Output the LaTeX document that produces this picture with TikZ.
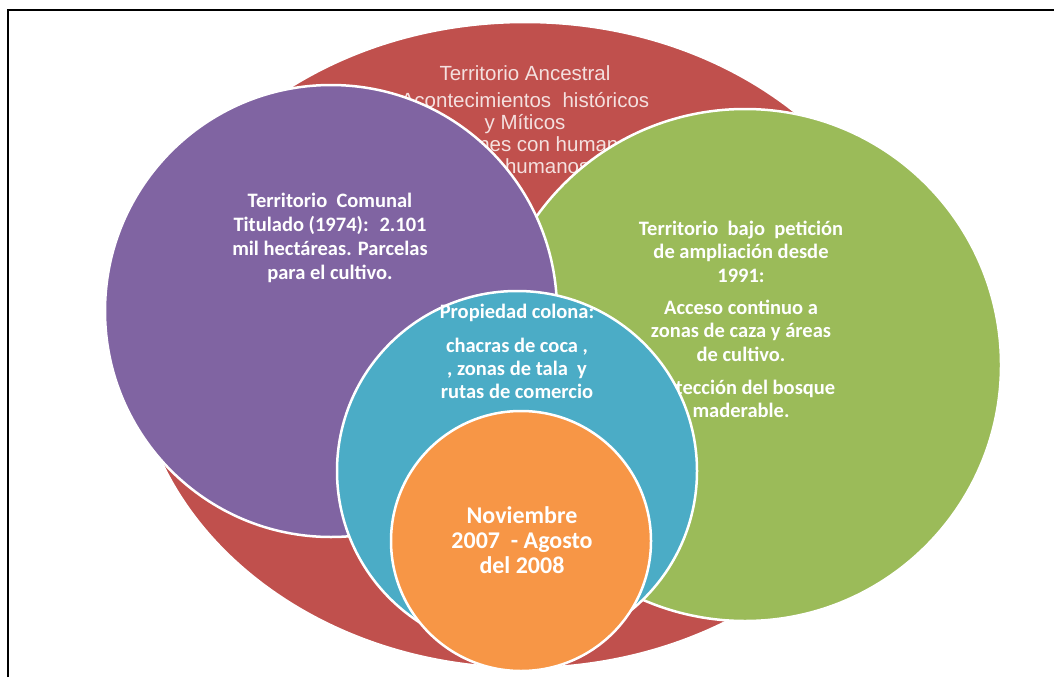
\documentclass[tikz,border=0pt]{standalone}
\usepackage{fontspec}
\setmainfont{Carlito}
\newfontfamily\arialf{Liberation Sans}
\usetikzlibrary{shapes.geometric}
\definecolor{cred}{HTML}{C0504D}
\definecolor{cpurple}{HTML}{8064A2}
\definecolor{cgreen}{HTML}{9BBB59}
\definecolor{cblue}{HTML}{4BACC6}
\definecolor{corange}{HTML}{F79646}
\definecolor{cpale}{HTML}{F4E0DF}
\tikzset{
  blob/.style={draw=white, line width=2.5pt, inner sep=0pt, outer sep=0pt},
  txt/.style={text=white, align=center, anchor=base, inner sep=0pt,
    font=\bfseries\fontsize{20.5}{24}\selectfont},
  redtxt/.style={text=cpale, align=center, anchor=base, inner sep=0pt,
    font=\arialf\fontsize{20.5}{22}\selectfont},
  frame/.style={draw=black, line width=2pt}
}
\begin{document}
\begin{tikzpicture}[x=1pt,y=-1pt]
\useasboundingbox (0,0) rectangle (1054,677);
\fill[white] (0,0) rectangle (1054,677);
\coordinate (fa) at (7.5,677);
\coordinate (fb) at (7.5,10.5);
\coordinate (fc) at (1054,10.5);
\draw[frame] (fa) -- (fb) -- (fc);

% anchor=base of a multi-line node is the baseline of its last line
\node[blob, ellipse, fill=cred, minimum width=780pt, minimum height=646pt] (anc) at (525,345) {};
\node[redtxt] (anctext) at (525,173) {Territorio Ancestral\\[5pt] Acontecimientos~ históricos\\ y Míticos\\ Relaciones con humanos\\ y no humanos};

\node[blob, circle, fill=cgreen, minimum size=512pt] (amp) at (745,365) {};
\node[txt, font=\bfseries\fontsize{20.5}{23.5}\selectfont] (amptext) at (741,417.5) {Territorio~ bajo~ petición\\ de ampliación desde\\ 1991:\\[8.5pt] Acceso continuo a\\ zonas de caza y áreas\\ de cultivo.\\[9.5pt] Protección del bosque\\ maderable.};

\node[blob, circle, fill=cpurple, minimum size=452pt] (com) at (331,311) {};
\node[txt] (comtext) at (330,279) {Territorio~ Comunal\\ Titulado (1974):~ 2.101\\ mil hectáreas. Parcelas\\ para el cultivo.};

\node[blob, circle, fill=cblue, minimum size=360pt] (col) at (517,471) {};
\node[txt, font=\bfseries\fontsize{20.5}{23}\selectfont] (coltext) at (517,398) {Propiedad colona:\\[11pt] chacras de coca ,\\ , zonas de tala~ y\\ rutas de comercio};

\node[blob, circle, fill=corange, minimum size=260pt] (per) at (521,541) {};
\node[txt, font=\bfseries\fontsize{24}{25}\selectfont] (pertext) at (522,573) {Noviembre\\ 2007~ - Agosto\\ del 2008};
\end{tikzpicture}
\end{document}
